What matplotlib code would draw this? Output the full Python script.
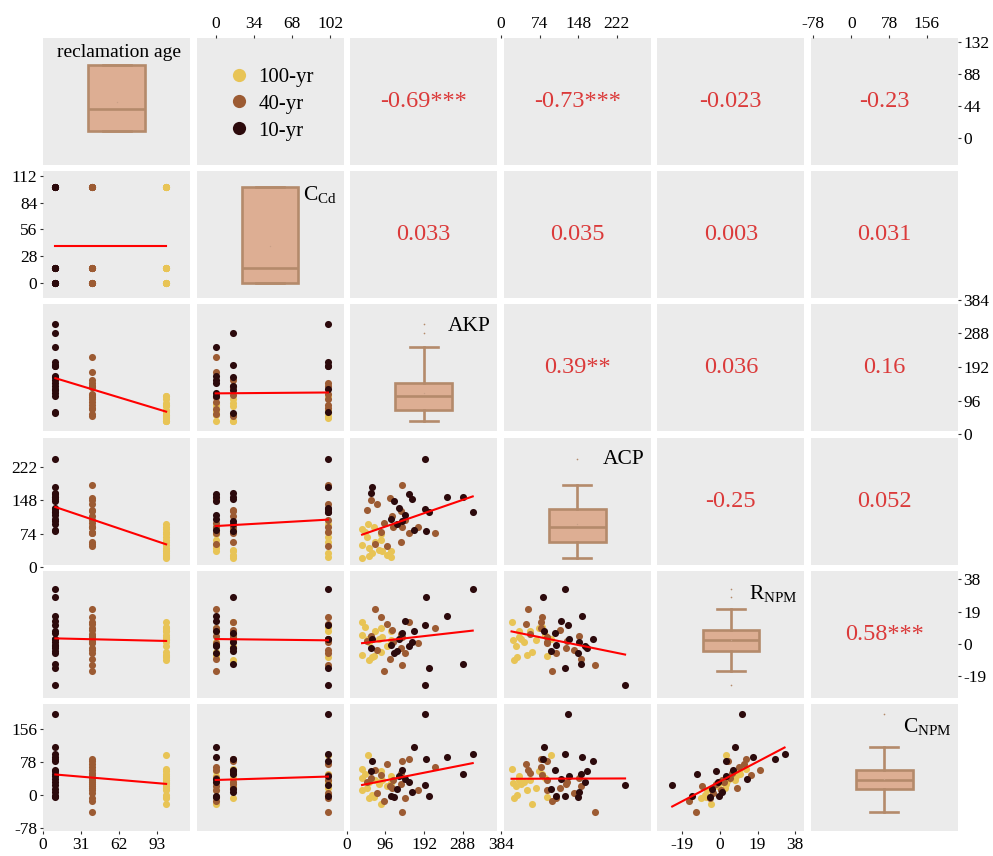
import numpy as np
import matplotlib
matplotlib.use('Agg')
import matplotlib.pyplot as plt
from matplotlib.lines import Line2D

plt.rcParams['font.family'] = 'Liberation Serif'
plt.rcParams['mathtext.fontset'] = 'custom'
plt.rcParams['mathtext.rm'] = 'Liberation Serif'
plt.rcParams['axes.unicode_minus'] = False

# groups: reclamation age (yr) and Cd treatment levels (6 samples per level)
ages = [10, 40, 100]
age_names = ['10-yr', '40-yr', '100-yr']
cd_levels = [0, 15, 100]

# rows: 10-yr, 40-yr, 100-yr ; columns: Cd 0 x6 | Cd 15 x6 | Cd 100 x6
akp = np.array([
    [248, 166, 118, 154, 109, 145, 288, 198, 138, 162, 61, 126, 313, 194, 194, 205, 129, 62],
    [71, 107, 59, 178, 220, 92, 134, 138, 155, 51, 113, 134, 138, 84, 115, 145, 75, 100],
    [109, 84, 67, 84, 38, 54, 80, 38, 38, 54, 101, 88, 52, 50, 63, 109, 45, 70],
])
acp = np.array([
    [155, 82, 147, 161, 106, 115, 154, 81, 103, 150, 164, 95, 123, 238, 128, 123, 131, 177],
    [52, 153, 149, 89, 76, 97, 125, 89, 76, 127, 113, 55, 181, 78, 89, 105, 140, 47],
    [35, 60, 89, 73, 50, 43, 39, 84, 20, 25, 28, 35, 95, 67, 31, 23, 78, 55],
])
rnpm = np.array([
    [16.5, 7.7, -5, -1, -0.5, 13.6, -11.6, 28, 6.5, 1, -2, -4, 32.6, -24, 11.3, -13.8, 3, 3],
    [20.4, -9, 5, 0.7, 9.4, -15.6, -2, 4, 13.3, 2, 8.6, 6, -12, 15.9, 1, -5, -3.2, 12],
    [8, -4.4, -7, 9.5, -6.3, 1, 3.3, 5.6, 13, -9.5, -1, 4, 3, 2.4, -7.6, 2.4, 10, 7.5],
])
cnpm = np.array([
    [88, 113, -5, 30, -2, 38, 49, 85, 58, 6, 56, 13, 96, 23, 190, -3, 43, 80],
    [58, 21, 40, 10, 65, -14, 25, 80, 85, 30, 16, 52, -42, 47, 35, -8, 5, 72],
    [45, -22, -5, 55, 12, 30, 25, 40, 60, -8, 20, 35, 93, 15, 0, 28, 50, 35],
])

var_labels = ['reclamation age', r'C$_{\mathrm{Cd}}$', 'AKP', 'ACP',
              r'R$_{\mathrm{NPM}}$', r'C$_{\mathrm{NPM}}$']
corr_labels = {(0, 2): '-0.69***', (0, 3): '-0.73***', (0, 4): '-0.023', (0, 5): '-0.23',
               (1, 2): '0.033', (1, 3): '0.035', (1, 4): '0.003', (1, 5): '0.031',
               (2, 3): '0.39**', (2, 4): '0.036', (2, 5): '0.16',
               (3, 4): '-0.25', (3, 5): '0.052',
               (4, 5): '0.58***'}

bottom_ticks = {0: [0, 31, 62, 93], 2: [0, 96, 192, 288, 384], 4: [-19, 0, 19, 38]}
top_ticks = {1: [0, 34, 68, 102], 3: [0, 74, 148, 222], 5: [-78, 0, 78, 156]}
left_ticks = {1: [0, 28, 56, 84, 112], 3: [0, 74, 148, 222], 5: [-78, 0, 78, 156]}
right_ticks = {0: [0, 44, 88, 132], 2: [0, 96, 192, 288, 384], 4: [-19, 0, 19, 38]}

x_lims = [(0, 119.5), (-17, 114), (8.4, 374), (5, 287.5), (-31.5, 42.6), (-83, 220)]
y_lims = [(-36, 137.5), (-16, 117), (8.4, 370), (6, 286), (-31.5, 43), (-86, 214)]

group_colors = ['#2C0A0C', '#9C5B33', '#E8C456']
box_fill = '#DDAE93'
box_edge = '#B48A6B'
panel_bg = '#EBEBEB'
corr_color = '#DB3A3A'

n_per = akp.shape[1]
age_col = np.repeat(ages, n_per)
cd_col = np.tile(np.repeat(cd_levels, n_per // 3), 3)
group = np.repeat([0, 1, 2], n_per)
data = [age_col, cd_col, akp.ravel(), acp.ravel(), rnpm.ravel(), cnpm.ravel()]
nv = len(data)

fig, axes = plt.subplots(nv, nv, figsize=(9.93, 8.56), dpi=100)
fig.subplots_adjust(left=43 / 993, right=958 / 993, bottom=1 - 831 / 856, top=1 - 38 / 856,
                    wspace=0.044, hspace=0.051)

for i in range(nv):
    for j in range(nv):
        ax = axes[i, j]
        ax.set_facecolor(panel_bg)
        for s in ax.spines.values():
            s.set_visible(False)
        ax.set_xticks([])
        ax.set_yticks([])

        if i == j:
            ax.boxplot(data[i], positions=[0.5], widths=0.385, patch_artist=True,
                       showmeans=True,
                       boxprops=dict(facecolor=box_fill, edgecolor=box_edge, linewidth=1.9),
                       medianprops=dict(color=box_edge, linewidth=1.9),
                       whiskerprops=dict(color=box_edge, linewidth=1.9),
                       capprops=dict(color=box_edge, linewidth=1.9),
                       capwidths=0.19,
                       flierprops=dict(marker='o', markersize=1.2, markerfacecolor=box_edge,
                                       markeredgecolor='none'),
                       meanprops=dict(marker='o', markersize=1.0, markerfacecolor='#C9A088',
                                      markeredgecolor='none'))
            ax.set_xlim(0, 1)
            ax.set_ylim(*y_lims[i])
            ax.set_xticks([])
            ax.set_yticks([])
            if i == 0:
                ax.text(0.52, 0.95, var_labels[i], transform=ax.transAxes,
                        ha='center', va='top', fontsize=14, color='black')
            else:
                ax.text(0.955, 0.9, var_labels[i], transform=ax.transAxes,
                        ha='right', va='top', fontsize=15.5, color='black')
        elif i > j:
            x, y = data[j], data[i]
            for g in [2, 1, 0]:
                m = group == g
                ax.scatter(x[m], y[m], s=26, color=group_colors[g], linewidths=0, zorder=2)
            coef = np.polyfit(x, y, 1)
            xs = np.array([x.min(), x.max()])
            ax.plot(xs, np.polyval(coef, xs), color='red', lw=1.5, zorder=3)
            ax.set_xlim(*x_lims[j])
            ax.set_ylim(*y_lims[i])
        else:
            if (i, j) in corr_labels:
                ax.text(0.5, 0.5, corr_labels[(i, j)], transform=ax.transAxes,
                        ha='center', va='center', fontsize=17.5, color=corr_color)
            ax.set_xlim(0, 1)
            ax.set_ylim(0, 1)

# legend for reclamation age groups
handles = [Line2D([], [], marker='o', ls='', markersize=9.5, color=group_colors[g],
                  markeredgewidth=0) for g in [2, 1, 0]]
axes[0, 1].legend(handles, [age_names[g] for g in [2, 1, 0]], loc='center',
                  bbox_to_anchor=(0.5, 0.48), frameon=False, fontsize=15,
                  handletextpad=0.35, labelspacing=0.35, handlelength=1.2)


def outer_axis(ax, side, lim, ticks):
    # extra frameless axes sharing the panel scale so labels may sit past the panel edge
    pos = ax.get_position()
    lo, hi = lim
    tlo, thi = min(lo, min(ticks)), max(hi, max(ticks))
    if side in ('left', 'right'):
        k = pos.height / (hi - lo)
        new = fig.add_axes([pos.x0, pos.y0 + (tlo - lo) * k, pos.width, (thi - tlo) * k])
        new.set_ylim(tlo, thi)
        new.set_yticks(ticks)
        new.set_xticks([])
        new.yaxis.set_ticks_position(side)
        new.yaxis.set_label_position(side)
    else:
        k = pos.width / (hi - lo)
        new = fig.add_axes([pos.x0 + (tlo - lo) * k, pos.y0, (thi - tlo) * k, pos.height])
        new.set_xlim(tlo, thi)
        new.set_xticks(ticks)
        new.set_yticks([])
        new.xaxis.set_ticks_position(side)
        new.xaxis.set_label_position(side)
    new.patch.set_visible(False)
    for s in new.spines.values():
        s.set_visible(False)
    new.tick_params(direction='out', length=2.5, width=0.8, color='#333333',
                    labelsize=12.5, labelcolor='black', pad=1.5)
    return new


for c, t in bottom_ticks.items():
    outer_axis(axes[nv - 1, c], 'bottom', x_lims[c], t)
for c, t in top_ticks.items():
    outer_axis(axes[0, c], 'top', x_lims[c], t)
for r, t in left_ticks.items():
    outer_axis(axes[r, 0], 'left', y_lims[r], t)
for r, t in right_ticks.items():
    outer_axis(axes[r, nv - 1], 'right', y_lims[r], t)

fig.savefig('out.png', dpi=100)
